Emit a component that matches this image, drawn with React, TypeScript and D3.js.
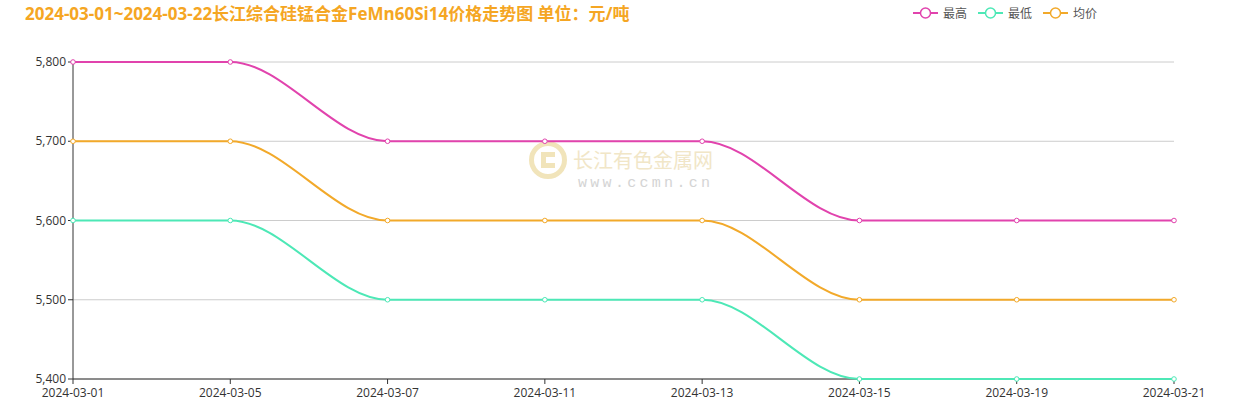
import React from 'react';
import * as d3 from 'd3';

const dates = ['2024-03-01', '2024-03-05', '2024-03-07', '2024-03-11', '2024-03-13', '2024-03-15', '2024-03-19', '2024-03-21'];
const highPrices = [5800, 5800, 5700, 5700, 5700, 5600, 5600, 5600];
const lowPrices = [5600, 5600, 5500, 5500, 5500, 5400, 5400, 5400];
const avgPrices = [5700, 5700, 5600, 5600, 5600, 5500, 5500, 5500];
const yTicks = [5400, 5500, 5600, 5700, 5800];

const seriesNames = ['最高', '最低', '均价'];
const seriesColors = ['#e143ad', '#4de8b6', '#f2a92a'];

const width = 1239;
const height = 419;
const margin = { top: 62, right: 65, bottom: 40, left: 73 };

export default function App() {
  const innerWidth = width - margin.left - margin.right;
  const innerHeight = height - margin.top - margin.bottom;

  const x = d3.scalePoint<string>().domain(dates).range([0, innerWidth]);
  const y = d3.scaleLinear().domain([5400, 5800]).range([innerHeight, 0]);

  const line = d3.line<number>()
    .x((_, i) => x(dates[i]) as number)
    .y(d => y(d))
    .curve(d3.curveMonotoneX);

  const series = [highPrices, lowPrices, avgPrices];
  const fmt = d3.format(',');
  const font = '"Open Sans", "Noto Sans CJK SC", sans-serif';

  const legendX = [913, 978, 1043];

  return (
    <svg width={width} height={height} style={{ position: 'fixed', left: 0, top: 0, background: '#fff' }} fontFamily={font}>
      {/* title */}
      <text x={25} y={20} fill="#f5a623" fontSize={17} fontWeight="bold">
        2024-03-01~2024-03-22长江综合硅锰合金FeMn60Si14价格走势图 单位：元/吨
      </text>

      {/* legend */}
      {seriesNames.map((name, i) => (
        <g key={name} transform={`translate(${legendX[i]},13)`}>
          <line x1={0} x2={25} y1={0} y2={0} stroke={seriesColors[i]} strokeWidth={2} />
          <circle cx={12.5} cy={0} r={5} fill="#fff" stroke={seriesColors[i]} strokeWidth={1.5} />
          <text x={30} y={4.5} fontSize={12} fill="#555">{name}</text>
        </g>
      ))}

      {/* watermark */}
      <g opacity={0.9}>
        <g transform="translate(548,160)">
          <circle r={16.5} fill="none" stroke="#f0e2b3" strokeWidth={5} />
          <path d="M7,-8 H-7 V8 H7 V3 H-2 V-3 H7 Z" fill="#f0e2b3" />
        </g>
        <text x={573} y={168} fontSize={20} fill="#f0e4c2" fontFamily='"Noto Sans CJK SC", sans-serif'>
          长江有色金属网
        </text>
        <text x={578} y={187} fontSize={15} fill="#d0d0d0" letterSpacing={3.3} fontFamily='"Liberation Mono", monospace'>
          www.ccmn.cn
        </text>
      </g>

      <g transform={`translate(${margin.left},${margin.top})`}>
        {/* grid lines */}
        {yTicks.map(t => (
          <line key={t} x1={0} x2={innerWidth} y1={y(t)} y2={y(t)} stroke="#cccccc" strokeWidth={1} />
        ))}

        {/* y axis */}
        <line x1={0} x2={0} y1={0} y2={innerHeight} stroke="#333" strokeWidth={1} />
        {yTicks.map(t => (
          <g key={t} transform={`translate(0,${y(t)})`}>
            <line x1={-5} x2={0} stroke="#333" />
            <text x={-7} dy="0.35em" textAnchor="end" fontSize={12} fill="#333">{fmt(t)}</text>
          </g>
        ))}

        {/* x axis */}
        <line x1={0} x2={innerWidth} y1={innerHeight} y2={innerHeight} stroke="#333" strokeWidth={1} />
        {dates.map(d => (
          <g key={d} transform={`translate(${x(d)},${innerHeight})`}>
            <line y1={0} y2={5} stroke="#333" />
            <text y={18} textAnchor="middle" fontSize={12} fill="#333">{d}</text>
          </g>
        ))}

        {/* lines */}
        {series.map((s, i) => (
          <path key={i} d={line(s) ?? ''} fill="none" stroke={seriesColors[i]} strokeWidth={2} />
        ))}
        {series.map((s, i) => (
          <g key={`m${i}`}>
            {s.map((v, j) => (
              <circle key={j} cx={x(dates[j])} cy={y(v)} r={2.3} fill="#fff" stroke={seriesColors[i]} strokeWidth={1} />
            ))}
          </g>
        ))}
      </g>
    </svg>
  );
}
